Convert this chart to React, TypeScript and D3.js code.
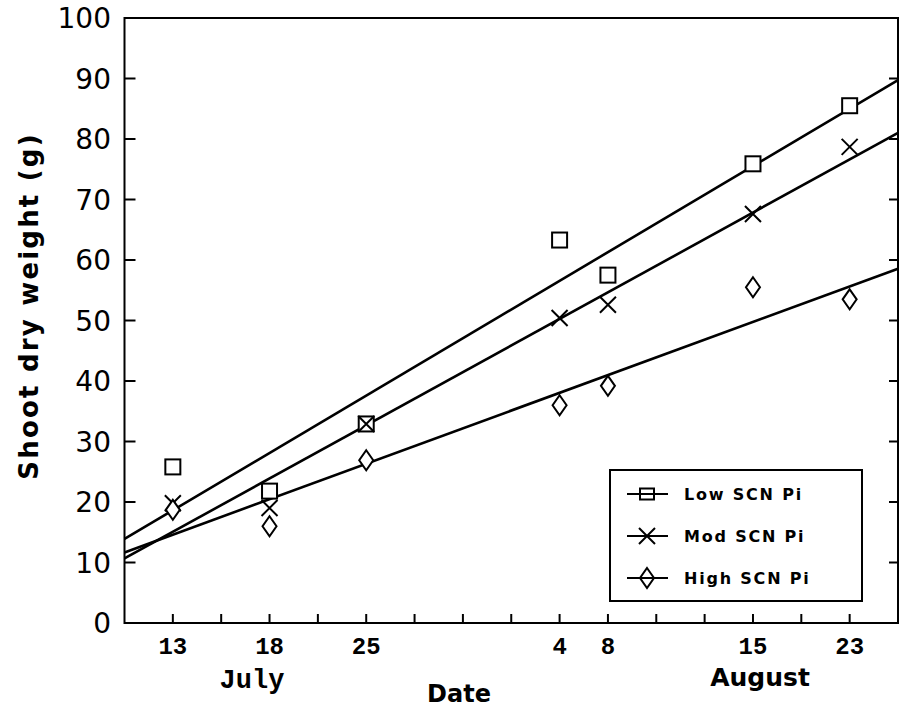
import React, { useRef, useEffect } from "react";
import { select, scaleLinear, line, mean } from "d3";

// x positions on the sampling axis (one tick per unit)
const samplePos = [1, 3, 5, 9, 10, 13, 15];
const dayLabels = ["13", "18", "25", "4", "8", "15", "23"];
const yTicks = [0, 10, 20, 30, 40, 50, 60, 70, 80, 90, 100];

const lowPi = [25.8, 21.8, 32.9, 63.3, 57.5, 75.9, 85.5];
const modPi = [19.8, 19.0, 32.9, 50.4, 52.6, 67.6, 78.7];
const highPi = [18.7, 16.0, 26.9, 36.0, 39.2, 55.5, 53.5];

const seriesNames = ["Low SCN Pi", "Mod SCN Pi", "High SCN Pi"];
const seriesShapes = ["square", "cross", "diamond"];

// least squares fit, used for the regression lines
function fit(xs: number[], ys: number[]) {
  const mx = mean(xs) as number;
  const my = mean(ys) as number;
  let sxy = 0, sxx = 0;
  xs.forEach((x, i) => {
    sxy += (x - mx) * (ys[i] - my);
    sxx += (x - mx) * (x - mx);
  });
  const b = sxy / sxx;
  return { a: my - b * mx, b };
}

function drawMarker(g: any, shape: string, cx: number, cy: number, small = false) {
  if (shape === "square") {
    const w = small ? 14 : 15, h = small ? 11 : 15;
    g.append("rect")
      .attr("x", cx - w / 2).attr("y", cy - h / 2)
      .attr("width", w).attr("height", h)
      .attr("fill", small ? "none" : "white").attr("stroke", "black").attr("stroke-width", 2);
  } else if (shape === "cross") {
    g.append("path")
      .attr("d", `M${cx - 8},${cy - 8}L${cx + 8},${cy + 8}M${cx - 8},${cy + 8}L${cx + 8},${cy - 8}`)
      .attr("stroke", "black").attr("stroke-width", 2).attr("fill", "none");
  } else {
    g.append("path")
      .attr("d", `M${cx},${cy - 10}L${cx + 7},${cy}L${cx},${cy + 10}L${cx - 7},${cy}Z`)
      .attr("fill", small ? "none" : "white").attr("stroke", "black").attr("stroke-width", 2);
  }
}

export default function App() {
  const svgRef = useRef<SVGSVGElement>(null);

  useEffect(() => {
    const svg = select(svgRef.current);
    svg.selectAll("*").remove();

    const x = scaleLinear().domain([0, 16]).range([124.5, 898]);
    const y = scaleLinear().domain([0, 100]).range([623, 18]);
    const [x0, x1] = x.range();
    const [y0, y1] = y.range();

    // frame
    svg.append("rect")
      .attr("x", x0).attr("y", y1)
      .attr("width", x1 - x0).attr("height", y0 - y1)
      .attr("fill", "none").attr("stroke", "black").attr("stroke-width", 2);

    // y ticks left + right (inside)
    yTicks.forEach((t) => {
      if (t === 0 || t === 100) return;
      svg.append("line").attr("x1", x0).attr("x2", x0 + 11)
        .attr("y1", y(t)).attr("y2", y(t)).attr("stroke", "black").attr("stroke-width", 2);
      svg.append("line").attr("x1", x1).attr("x2", x1 - 9)
        .attr("y1", y(t)).attr("y2", y(t)).attr("stroke", "black").attr("stroke-width", 2);
    });
    svg.selectAll(".ylab")
      .data(yTicks)
      .join("text")
      .attr("class", "ylab")
      .attr("x", 111)
      .attr("y", (d) => y(d) + 10)
      .attr("text-anchor", "end")
      .attr("font-family", "DejaVu Sans")
      .attr("font-size", 28)
      .text((d) => d);

    // x ticks (inside, every unit)
    for (let i = 1; i < 16; i++) {
      svg.append("line").attr("x1", x(i)).attr("x2", x(i))
        .attr("y1", y0).attr("y2", y0 - 9).attr("stroke", "black").attr("stroke-width", 2);
    }
    svg.selectAll(".xlab")
      .data(dayLabels)
      .join("text")
      .attr("class", "xlab")
      .attr("x", (d, i) => x(samplePos[i]))
      .attr("y", 654)
      .attr("text-anchor", "middle")
      .attr("font-family", "Liberation Mono")
      .attr("font-weight", "bold")
      .attr("font-size", 24)
      .text((d) => d);

    svg.append("text").attr("x", 252).attr("y", 688).attr("text-anchor", "middle")
      .attr("font-family", "Liberation Mono").attr("font-weight", "bold")
      .attr("font-size", 27).text("July");
    svg.append("text").attr("x", 760).attr("y", 686).attr("text-anchor", "middle")
      .attr("font-family", "DejaVu Sans").attr("font-weight", "bold")
      .attr("font-size", 25).text("August");
    svg.append("text").attr("x", 459).attr("y", 702).attr("text-anchor", "middle")
      .attr("font-family", "DejaVu Sans").attr("font-weight", "bold")
      .attr("font-size", 24).text("Date");
    svg.append("text")
      .attr("transform", `translate(38, 306) rotate(-90)`)
      .attr("text-anchor", "middle")
      .attr("font-family", "DejaVu Sans").attr("font-weight", "bold")
      .attr("font-size", 26).attr("letter-spacing", 2.2)
      .text("Shoot dry weight (g)");

    const allSeries = [lowPi, modPi, highPi];

    // regression lines
    allSeries.forEach((vals) => {
      const { a, b } = fit(samplePos, vals);
      svg.append("path")
        .attr("d", line<number>().x((d) => x(d)).y((d) => y(a + b * d))([0, 16]) as string)
        .attr("fill", "none").attr("stroke", "black").attr("stroke-width", 2.6);
    });

    // markers
    allSeries.forEach((vals, s) => {
      const g = svg.append("g");
      vals.forEach((v, i) => drawMarker(g, seriesShapes[s], x(samplePos[i]), y(v)));
    });

    // legend
    const lg = svg.append("g");
    lg.append("rect").attr("x", 610).attr("y", 470).attr("width", 252).attr("height", 131)
      .attr("fill", "white").attr("stroke", "black").attr("stroke-width", 2);
    seriesNames.forEach((name, i) => {
      const cy = 494 + i * 42;
      lg.append("line").attr("x1", 627).attr("x2", 668).attr("y1", cy).attr("y2", cy)
        .attr("stroke", "black").attr("stroke-width", 2.2);
      drawMarker(lg, seriesShapes[i], 647, cy, true);
      lg.append("text").attr("x", 684).attr("y", cy + 6)
        .attr("font-family", "DejaVu Sans").attr("font-weight", "bold")
        .attr("font-size", 16).attr("letter-spacing", 1.8)
        .text(name);
    });
  }, []);

  return (
    <svg
      ref={svgRef}
      width={905}
      height={709}
      style={{ position: "absolute", left: 0, top: 0, background: "white" }}
    />
  );
}
